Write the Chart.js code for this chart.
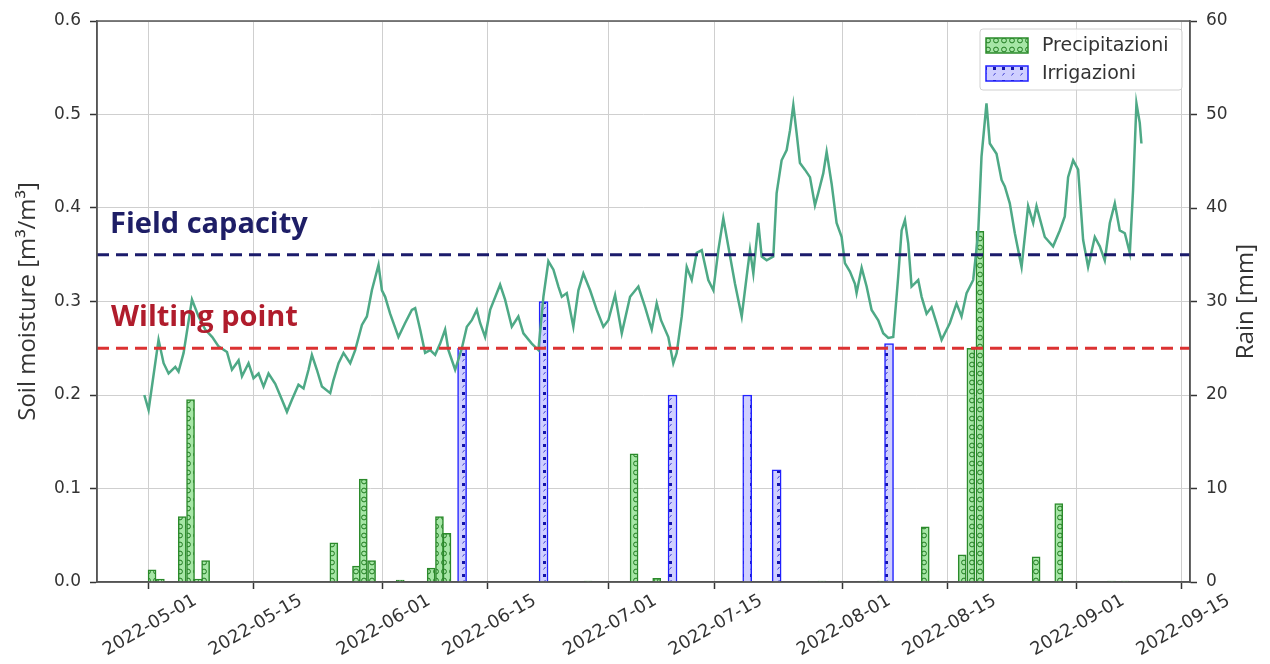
<!DOCTYPE html>
<html>
<head>
<meta charset="utf-8">
<title>Soil moisture</title>
<script src="https://cdn.jsdelivr.net/npm/chart.js@4.4.1/dist/chart.umd.min.js"></script>
<style>
  html, body { margin: 0; padding: 0; background: #fff; }
  #wrap { width: 1270px; height: 664px; }
</style>
</head>
<body>
<div id="wrap"><canvas id="chart" width="1270" height="664"></canvas></div>
<script>
// asse x: giorni dal 2022-05-01
const tickLabels = ['2022-05-01', '2022-05-15', '2022-06-01', '2022-06-15', '2022-07-01',
                    '2022-07-15', '2022-08-01', '2022-08-15', '2022-09-01', '2022-09-15'];
const leftTicks = [0, 0.1, 0.2, 0.3, 0.4, 0.5, 0.6];
const rightTicks = [0, 10, 20, 30, 40, 50, 60];

const fieldCapacity = 0.35;
const wiltingPoint = 0.25;

// umidita' del suolo (m3/m3)
const smDays = [
  -0.53, 0.04, 1.36, 2.03, 2.69, 3.58, 4.01, 4.68, 5.79, 6.66,
  7.55, 8.48, 9.31, 10.43, 11.09, 11.97, 12.42, 13.29, 13.95, 14.62,
  15.28, 15.94, 16.83, 17.72, 18.38, 19.04, 19.91, 20.58, 21.24, 21.69,
  22.35, 23.02, 24.12, 24.55, 25.22, 25.88, 26.77, 27.43, 28.32, 28.98,
  29.64, 30.52, 30.97, 31.40, 32.06, 33.16, 34.05, 34.94, 35.38, 36.04,
  36.70, 37.37, 38.03, 38.69, 39.35, 39.79, 40.68, 41.57, 42.23, 42.89,
  43.55, 43.99, 44.65, 45.32, 46.64, 47.30, 48.19, 49.06, 49.73, 50.84,
  51.72, 52.38, 53.04, 53.71, 54.37, 54.82, 55.48, 56.35, 57.02, 57.68,
  58.57, 59.45, 60.33, 60.99, 61.88, 62.77, 63.87, 64.97, 65.86, 66.74,
  67.40, 67.97, 68.94, 69.60, 70.05, 70.72, 71.38, 72.04, 72.70, 73.37,
  74.24, 74.91, 75.57, 76.23, 76.89, 77.78, 78.67, 79.33, 79.77, 80.21,
  80.87, 81.32, 81.98, 82.86, 83.30, 83.96, 84.63, 85.07, 85.51, 85.95,
  86.39, 87.05, 87.72, 88.38, 88.82, 89.48, 89.93, 90.59, 91.25, 91.92,
  92.35, 93.02, 93.68, 93.90, 94.57, 95.23, 95.89, 96.77, 97.43, 98.10,
  98.76, 99.42, 99.87, 100.31, 100.75, 101.19, 102.07, 102.52, 103.18, 103.84,
  104.50, 105.17, 106.27, 107.15, 107.81, 108.48, 109.36, 110.02, 110.46, 111.12,
  111.56, 112.45, 113.12, 113.55, 114.21, 114.88, 115.77, 116.64, 117.31, 117.75,
  118.85, 119.95, 120.84, 121.50, 121.94, 122.61, 123.27, 123.93, 124.59, 125.48,
  126.14, 126.80, 127.47, 128.13, 128.79, 129.46, 130.12, 130.55, 131.00, 131.44,
  131.66
];
const smValues = [
  0.200, 0.184, 0.259, 0.234, 0.223, 0.230, 0.225, 0.245, 0.302, 0.284,
  0.270, 0.262, 0.252, 0.246, 0.227, 0.237, 0.220, 0.234, 0.218, 0.223,
  0.209, 0.223, 0.212, 0.195, 0.182, 0.195, 0.211, 0.207, 0.227, 0.243,
  0.227, 0.209, 0.202, 0.216, 0.234, 0.245, 0.234, 0.248, 0.275, 0.284,
  0.312, 0.339, 0.312, 0.305, 0.287, 0.262, 0.277, 0.291, 0.293, 0.270,
  0.245, 0.248, 0.243, 0.255, 0.270, 0.248, 0.227, 0.250, 0.273, 0.280,
  0.291, 0.277, 0.262, 0.291, 0.318, 0.302, 0.273, 0.284, 0.266, 0.255,
  0.248, 0.305, 0.343, 0.334, 0.316, 0.305, 0.309, 0.273, 0.312, 0.330,
  0.312, 0.291, 0.273, 0.280, 0.307, 0.266, 0.305, 0.316, 0.294, 0.270,
  0.298, 0.280, 0.262, 0.234, 0.245, 0.284, 0.337, 0.323, 0.352, 0.355,
  0.323, 0.312, 0.355, 0.389, 0.359, 0.319, 0.284, 0.327, 0.355, 0.330,
  0.384, 0.348, 0.344, 0.348, 0.416, 0.451, 0.462, 0.483, 0.510, 0.480,
  0.448, 0.441, 0.433, 0.403, 0.416, 0.437, 0.460, 0.426, 0.384, 0.369,
  0.341, 0.332, 0.319, 0.309, 0.336, 0.316, 0.291, 0.280, 0.266, 0.261,
  0.262, 0.327, 0.376, 0.387, 0.362, 0.316, 0.323, 0.305, 0.287, 0.294,
  0.277, 0.259, 0.277, 0.298, 0.284, 0.309, 0.323, 0.373, 0.455, 0.512,
  0.469, 0.458, 0.430, 0.423, 0.405, 0.373, 0.337, 0.402, 0.384, 0.402,
  0.369, 0.359, 0.376, 0.391, 0.433, 0.451, 0.441, 0.366, 0.337, 0.369,
  0.359, 0.344, 0.384, 0.405, 0.376, 0.373, 0.352, 0.419, 0.512, 0.491,
  0.469
];

// precipitazioni e irrigazioni (mm)
const rainDays = [0.5, 1.6, 4.5, 5.6, 6.6, 7.6, 24.6, 27.6, 28.5, 29.6, 33.4, 37.5, 38.6, 39.6,
                  58.3, 64.4, 67.4, 89.3, 97.2, 103.0, 107.9, 109.05, 110.25, 117.7, 120.7, 127.7, 129.5];
const rainMm = [1.3, 0.3, 7.0, 19.5, 0.3, 2.3, 4.2, 1.7, 11.0, 2.3, 0.2, 1.5, 7.0, 5.2,
                0.1, 13.7, 0.4, 0.1, 0.1, 5.9, 2.9, 25.0, 37.5, 2.7, 8.4, 0.1, 0.1];
const irrDays = [41.6, 52.4, 69.5, 79.4, 83.3, 98.2];
const irrMm = [25, 30, 20, 20, 12, 25.5];

const X_MIN = -6.8;
const X_MAX = 138.1;

const DAY0 = Date.UTC(2022, 4, 1);
function toDay(s) {
    const [y, m, d] = s.split('-').map(Number);
    return (Date.UTC(y, m - 1, d) - DAY0) / 86400000;
}
const tickDays = tickLabels.map(toDay);

const canvas = document.getElementById('chart');
const ctx = canvas.getContext('2d');

// motivi tratteggiati delle barre
function hatch(w, h, bg, draw) {
    const c = document.createElement('canvas');
    c.width = w;
    c.height = h;
    const g = c.getContext('2d');
    g.fillStyle = bg;
    g.fillRect(0, 0, w, h);
    draw(g);
    return ctx.createPattern(c, 'repeat');
}
const rainPattern = hatch(8, 9, '#a6e6a6', g => {
    g.strokeStyle = '#1f7a1f';
    g.lineWidth = 1;
    g.beginPath();
    g.arc(4, 4.5, 2.4, 0, Math.PI * 2);
    g.stroke();
});
const irrPattern = hatch(9, 13, '#cfcfff', g => {
    g.fillStyle = '#1414a8';
    g.fillRect(3, 2, 3, 3);
    g.strokeStyle = '#4040d0';
    g.lineWidth = 1;
    g.beginPath();
    g.moveTo(3.5, 10.5);
    g.lineTo(5.5, 8);
    g.stroke();
});

const tickFont = { family: 'DejaVu Sans', size: 17 };
const gridColor = '#cfcfcf';

// testi, cornice e legenda
const overlay = {
    id: 'overlay',
    afterDatasetsDraw(chart) {
        const { ctx, chartArea: a, scales } = chart;
        ctx.save();
        ctx.font = 'bold 29px "Open Sans"';
        ctx.textAlign = 'left';
        ctx.textBaseline = 'alphabetic';
        ctx.fillStyle = '#1e1e66';
        ctx.fillText('Field capacity', a.left + 13, scales.y.getPixelForValue(fieldCapacity) - 22);
        ctx.fillStyle = '#b01c2c';
        ctx.fillText('Wilting point', a.left + 14, scales.y.getPixelForValue(wiltingPoint) - 22);
        ctx.restore();
    },
    afterDraw(chart) {
        const { ctx, chartArea: a, width } = chart;
        ctx.save();
        ctx.strokeStyle = '#555';
        ctx.lineWidth = 1.5;
        ctx.strokeRect(a.left, a.top, a.right - a.left, a.bottom - a.top);

        // titolo asse destro, letto dal basso verso l'alto
        ctx.save();
        ctx.translate(width - 24, (a.top + a.bottom) / 2);
        ctx.rotate(-Math.PI / 2);
        ctx.font = '24px "Open Sans"';
        ctx.fillStyle = '#333';
        ctx.textAlign = 'center';
        ctx.textBaseline = 'middle';
        ctx.fillText('Rain [mm]', 0, 0);
        ctx.restore();

        // legenda
        const bx = a.right - 210, by = a.top + 8, bw = 202, bh = 61;
        ctx.fillStyle = 'rgba(255,255,255,0.85)';
        ctx.strokeStyle = '#d0d0d0';
        ctx.lineWidth = 1;
        ctx.beginPath();
        ctx.roundRect(bx, by, bw, bh, 3);
        ctx.fill();
        ctx.stroke();
        const items = [
            { text: 'Precipitazioni', fill: rainPattern, edge: '#2b8a2b' },
            { text: 'Irrigazioni', fill: irrPattern, edge: '#2020ff' }
        ];
        ctx.font = '19px "DejaVu Sans"';
        ctx.textBaseline = 'middle';
        items.forEach((it, i) => {
            const cy = by + 16 + i * 28;
            ctx.fillStyle = it.fill;
            ctx.fillRect(bx + 6, cy - 7, 42, 15);
            ctx.strokeStyle = it.edge;
            ctx.lineWidth = 1.5;
            ctx.strokeRect(bx + 6, cy - 7, 42, 15);
            ctx.fillStyle = '#333';
            ctx.fillText(it.text, bx + 62, cy + 1);
        });
        ctx.restore();
    }
};

new Chart(ctx, {
    type: 'bar',
    data: {
        datasets: [
            {
                type: 'line',
                label: 'Field capacity',
                data: [{ x: X_MIN, y: fieldCapacity }, { x: X_MAX, y: fieldCapacity }],
                borderColor: '#1b1b6b',
                borderWidth: 3,
                borderDash: [12, 7],
                pointRadius: 0,
                yAxisID: 'y',
                order: 1
            },
            {
                type: 'line',
                label: 'Wilting point',
                data: [{ x: X_MIN, y: wiltingPoint }, { x: X_MAX, y: wiltingPoint }],
                borderColor: '#dc3232',
                borderWidth: 3,
                borderDash: [12, 7],
                pointRadius: 0,
                yAxisID: 'y',
                order: 1
            },
            {
                type: 'line',
                label: 'Soil moisture',
                data: smDays.map((d, i) => ({ x: d, y: smValues[i] })),
                borderColor: '#4ea986',
                borderWidth: 2.5,
                pointRadius: 0,
                tension: 0,
                yAxisID: 'y',
                order: 2
            },
            {
                label: 'Precipitazioni',
                data: rainDays.map((d, i) => ({ x: d, y: rainMm[i] })),
                backgroundColor: rainPattern,
                borderColor: '#2b8a2b',
                borderWidth: 1.5,
                barThickness: 8,
                grouped: false,
                yAxisID: 'y1',
                order: 3
            },
            {
                label: 'Irrigazioni',
                data: irrDays.map((d, i) => ({ x: d, y: irrMm[i] })),
                backgroundColor: irrPattern,
                borderColor: '#2020ff',
                borderWidth: 1.5,
                barThickness: 9,
                grouped: false,
                yAxisID: 'y1',
                order: 3
            }
        ]
    },
    options: {
        responsive: false,
        animation: false,
        layout: { padding: { top: 21, left: 0, right: 0, bottom: 0 } },
        plugins: {
            legend: { display: false },
            tooltip: { enabled: false }
        },
        scales: {
            x: {
                type: 'linear',
                min: X_MIN,
                max: X_MAX,
                offset: false,
                afterBuildTicks: s => { s.ticks = tickDays.map(v => ({ value: v })); },
                afterFit: s => { s.height = 82; },
                grid: { color: gridColor, offset: false, tickLength: 7, tickColor: '#333', tickWidth: 1.5 },
                border: { color: '#555', width: 1.5 },
                ticks: {
                    autoSkip: false,
                    minRotation: 30,
                    maxRotation: 30,
                    labelOffset: 47,
                    padding: 1,
                    color: '#333',
                    font: { family: 'DejaVu Sans', size: 18 },
                    callback: (v, i) => tickLabels[i]
                }
            },
            y: {
                position: 'left',
                min: 0,
                max: 0.6,
                afterBuildTicks: s => { s.ticks = leftTicks.map(v => ({ value: v })); },
                afterFit: s => { s.width = 97; },
                grid: { color: gridColor, tickLength: 7, tickColor: '#333', tickWidth: 1.5 },
                border: { color: '#555', width: 1.5 },
                ticks: { color: '#333', font: tickFont, padding: 9, callback: v => v.toFixed(1) },
                title: {
                    display: true,
                    text: 'Soil moisture [m³/m³]',
                    color: '#333',
                    font: { family: 'Open Sans', size: 24 },
                    padding: { top: 14, bottom: 0 }
                }
            },
            y1: {
                position: 'right',
                min: 0,
                max: 60,
                afterBuildTicks: s => { s.ticks = rightTicks.map(v => ({ value: v })); },
                afterFit: s => { s.width = 80; },
                grid: { drawOnChartArea: false, tickLength: 7, tickColor: '#333', tickWidth: 1.5 },
                border: { color: '#555', width: 1.5 },
                ticks: { color: '#333', font: tickFont, padding: 9 }
            }
        }
    },
    plugins: [overlay]
});
</script>
</body>
</html>
